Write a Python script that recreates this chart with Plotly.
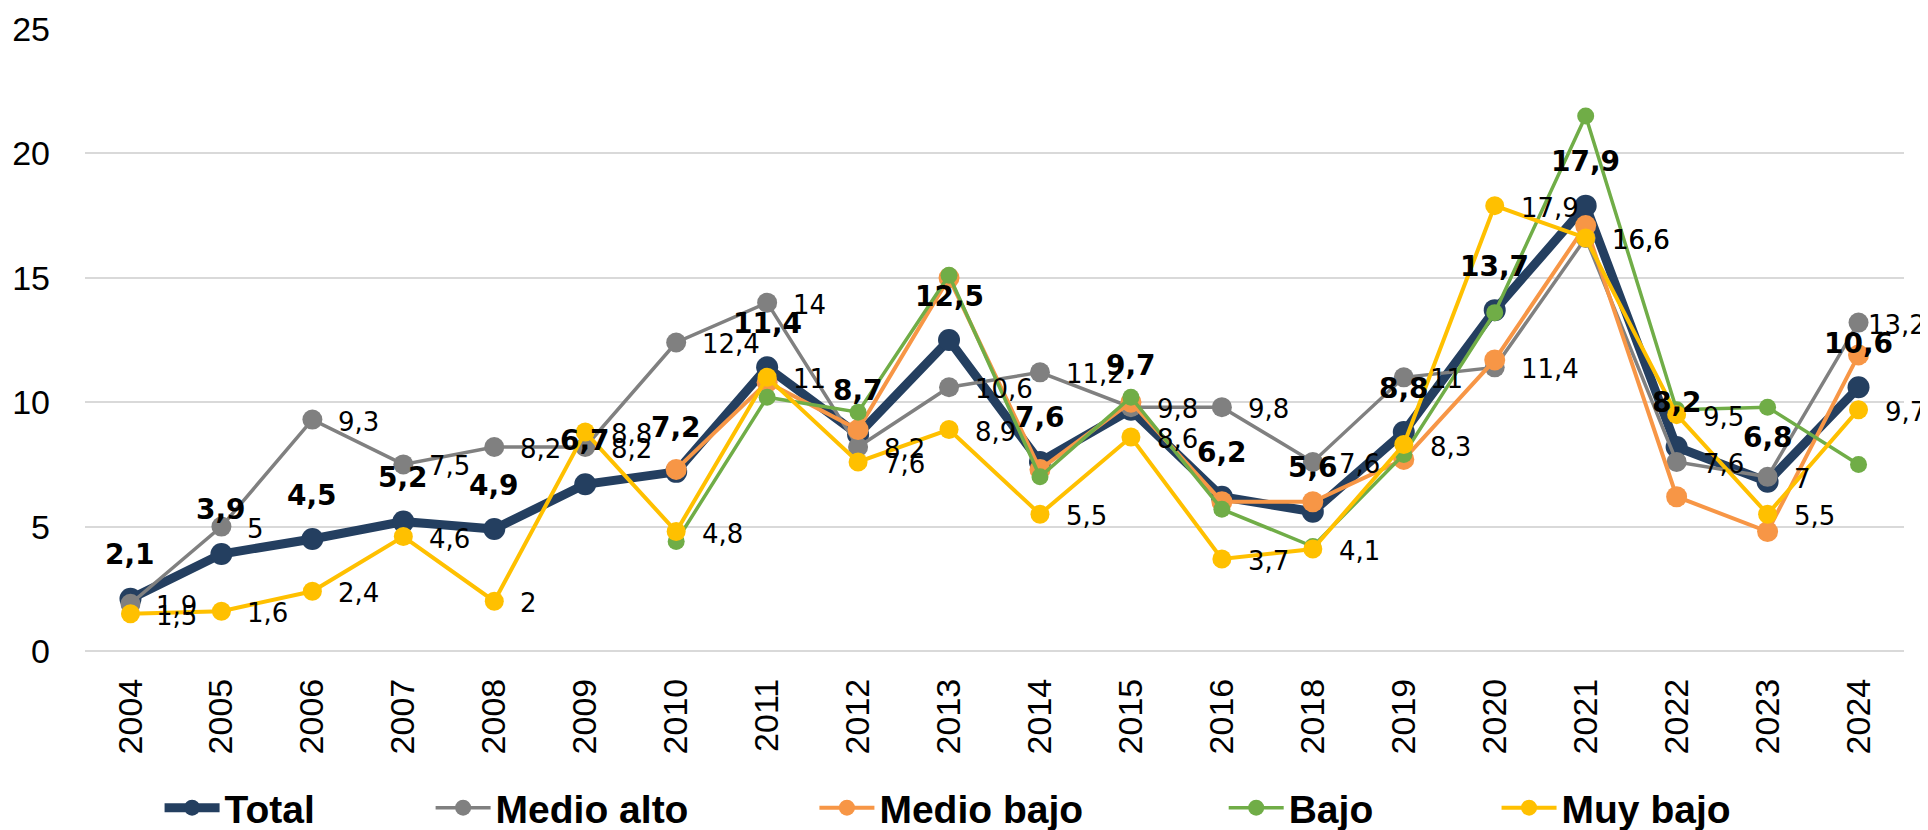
import plotly.graph_objects as go

years = ["2004", "2005", "2006", "2007", "2008", "2009", "2010", "2011", "2012", "2013",
         "2014", "2015", "2016", "2018", "2019", "2020", "2021", "2022", "2023", "2024"]

total = [2.1, 3.9, 4.5, 5.2, 4.9, 6.7, 7.2, 11.4, 8.7, 12.5,
         7.6, 9.7, 6.2, 5.6, 8.8, 13.7, 17.9, 8.2, 6.8, 10.6]
medio_alto = [1.9, 5, 9.3, 7.5, 8.2, 8.2, 12.4, 14, 8.2, 10.6,
              11.2, 9.8, 9.8, 7.6, 11, 11.4, 16.6, 7.6, 7, 13.2]
medio_bajo = [None, None, None, None, None, None, 7.3, 10.8, 8.9, 15.0,
              7.3, 10.0, 6.0, 6.0, 7.7, 11.7, 17.1, 6.2, 4.8, 11.9]
bajo = [None, None, None, None, None, None, 4.4, 10.2, 9.6, 15.1,
        7.0, 10.2, 5.7, 4.2, 7.9, 13.6, 21.5, 9.7, 9.8, 7.5]
muy_bajo = [1.5, 1.6, 2.4, 4.6, 2.0, 8.8, 4.8, 11, 7.6, 8.9,
            5.5, 8.6, 3.7, 4.1, 8.3, 17.9, 16.6, 9.5, 5.5, 9.7]

FONT = "Liberation Sans, Arial, sans-serif"
LABEL_FONT = "DejaVu Sans, sans-serif"


def fmt(v):
    return f"{v:g}".replace(".", ",")


# nombre, valores, color, grosor de linea, tamaño de marcador, leyenda
series = [
    ("Total", total, "#243F60", 9, 22, "legend"),
    ("Medio alto", medio_alto, "#808080", 3.5, 20, "legend2"),
    ("Medio bajo", medio_bajo, "#F79646", 4, 21, "legend3"),
    ("Bajo", bajo, "#70AD47", 3.5, 17, "legend4"),
    ("Muy bajo", muy_bajo, "#FFC000", 4, 19, "legend5"),
]

fig = go.Figure()
for name, vals, color, lw, ms, leg in series:
    fig.add_trace(go.Scatter(
        x=years, y=vals, name=name, mode="lines+markers",
        line=dict(color=color, width=lw),
        marker=dict(color=color, size=ms),
        legend=leg,
    ))

# etiquetas de datos (x como índice de categoría)
ann = []
for i, v in enumerate(total):
    ann.append(dict(x=i, y=v, text=fmt(v), showarrow=False, xanchor="center",
                    yanchor="middle", yshift=44,
                    font=dict(family=LABEL_FONT, size=28, color="black", weight="bold")))
last = len(years) - 1
for vals in (medio_alto, muy_bajo):
    for i, v in enumerate(vals):
        txt = fmt(v)
        # como en Excel, la etiqueta se acerca al punto si no cabe en el borde
        shift = 7 if (i == last and len(txt) > 3) else 24
        ann.append(dict(x=i, y=v, text=txt, showarrow=False, xanchor="left",
                        yanchor="middle", xshift=shift, yshift=-2,
                        font=dict(family=LABEL_FONT, size=26, color="black")))
fig.update_layout(annotations=ann)

# una leyenda por serie para fijar la posición de cada entrada
leg_x = [0.041, 0.19, 0.401, 0.626, 0.776]
leg_names = ["legend", "legend2", "legend3", "legend4", "legend5"]
for lx, ln in zip(leg_x, leg_names):
    fig.update_layout({ln: dict(
        orientation="h", x=lx, y=0.027, yref="container",
        xanchor="left", yanchor="middle",
        font=dict(family=FONT, size=39, color="black", weight="bold"),
        itemwidth=55, bgcolor="rgba(0,0,0,0)",
    )})

# la página añade 8 px de margen al cuerpo: figura de 1920x822
fig.update_layout(
    width=1920, height=822,
    margin=dict(l=77, r=24, t=21, b=179),
    plot_bgcolor="white", paper_bgcolor="white",
    font=dict(family=FONT, color="black"),
    showlegend=True,
    xaxis=dict(type="category", tickangle=-90, showgrid=False, showline=False,
               tickfont=dict(size=34, color="black"), ticklabelstandoff=20,
               range=[-0.5, 19.5], automargin=False),
    yaxis=dict(range=[0, 25], dtick=5, gridcolor="#D9D9D9", gridwidth=2,
               zeroline=True, zerolinecolor="#D9D9D9", zerolinewidth=2,
               tickfont=dict(size=34, color="black"), ticklabelstandoff=34,
               automargin=False),
)

fig.write_html("out.html")
